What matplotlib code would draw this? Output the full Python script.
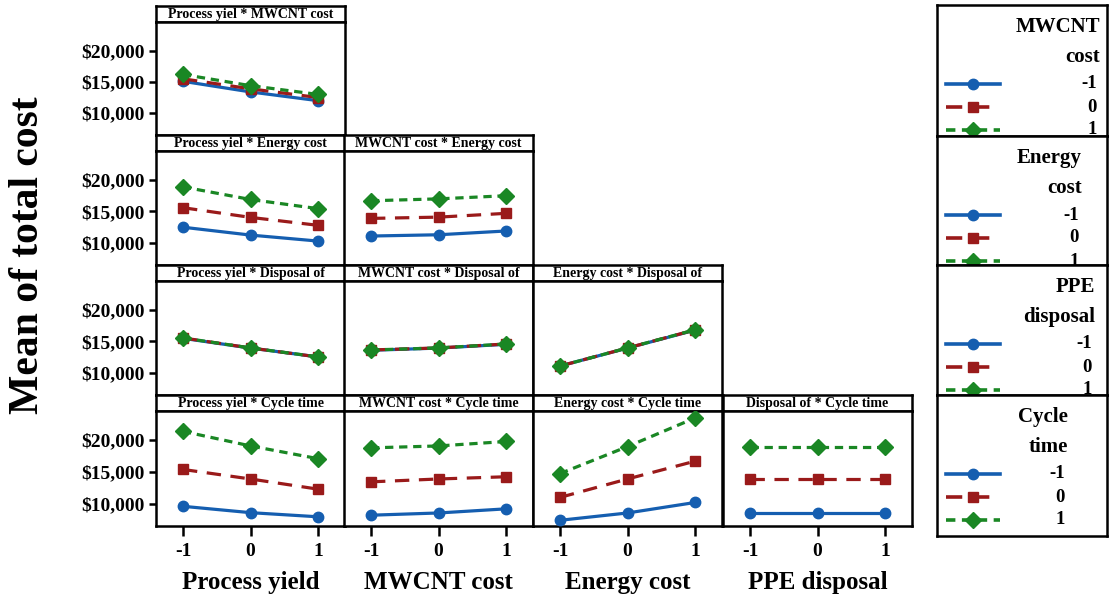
import numpy as np
import matplotlib
matplotlib.use('Agg')
import matplotlib.pyplot as plt
from matplotlib.ticker import FuncFormatter

plt.rcParams['font.family'] = ['Liberation Serif', 'DejaVu Serif']
plt.rcParams['font.weight'] = 'bold'
plt.rcParams['axes.unicode_minus'] = False

# factor levels and names
levels = [-1, 0, 1]
x_factors = ['Process yield', 'MWCNT cost', 'Energy cost', 'PPE disposal']
trace_factors = ['MWCNT\ncost', 'Energy\ncost', 'PPE\ndisposal', 'Cycle\ntime']
short_x = ['Process yiel', 'MWCNT cost', 'Energy cost', 'Disposal of']
short_trace = ['MWCNT cost', 'Energy cost', 'Disposal of', 'Cycle time']

# mean total cost, rows = trace level -1, 0, 1
yield_x_mwcnt = [[15100, 13400, 12000], [15500, 13900, 12500], [16200, 14400, 13000]]
yield_x_energy = [[12500, 11250, 10300], [15600, 14060, 12800], [18900, 16900, 15450]]
mwcnt_x_energy = [[11100, 11300, 11900], [13900, 14100, 14700], [16700, 17000, 17500]]
yield_x_ppe = [[15500, 13950, 12550], [15560, 13970, 12540], [15560, 13970, 12560]]
mwcnt_x_ppe = [[13600, 13950, 14550], [13650, 13970, 14600], [13650, 13970, 14600]]
energy_x_ppe = [[11100, 13950, 16800], [11100, 13970, 16830], [11100, 13970, 16850]]
yield_x_cycle = [[9600, 8600, 7950], [15400, 13900, 12300], [21400, 19100, 17100]]
mwcnt_x_cycle = [[8200, 8550, 9200], [13450, 13900, 14250], [18800, 19100, 19800]]
energy_x_cycle = [[7400, 8550, 10200], [11000, 13900, 16700], [14750, 19000, 23500]]
ppe_x_cycle = [[8550, 8550, 8550], [13900, 13900, 13900], [19000, 19000, 19000]]

panels = {
    (0, 0): yield_x_mwcnt,
    (1, 0): yield_x_energy, (1, 1): mwcnt_x_energy,
    (2, 0): yield_x_ppe, (2, 1): mwcnt_x_ppe, (2, 2): energy_x_ppe,
    (3, 0): yield_x_cycle, (3, 1): mwcnt_x_cycle, (3, 2): energy_x_cycle, (3, 3): ppe_x_cycle,
}

colors = ['#155EB0', '#9A1A1A', '#1A8724']
styles = ['-', (0, (4.5, 3)), (0, (2.6, 1.8))]
markers = ['o', 's', 'D']
msizes = [7.5, 7, 8.5]

W, H = 1110, 603
fig = plt.figure(figsize=(W / 100, H / 100), dpi=100)

col_left = [156, 344, 533, 723]
col_w = 189
row_top = [6, 135, 265, 395]
row_bot = [135, 265, 395, 526]
band = 16

def frac(x0, y0, x1, y1):
    return [x0 / W, 1 - y1 / H, (x1 - x0) / W, (y1 - y0) / H]

money = FuncFormatter(lambda v, p: '\\$' + format(int(v), ','))

for (r, c), vals in panels.items():
    x0 = col_left[c]
    hax = fig.add_axes(frac(x0, row_top[r], x0 + col_w, row_top[r] + band))
    hax.set_xticks([]); hax.set_yticks([])
    for s in hax.spines.values():
        s.set_linewidth(1.8)
    hax.text(0.5, 0.45, short_x[c] + ' * ' + short_trace[r], ha='center', va='center',
             fontsize=10, fontweight='bold', transform=hax.transAxes)

    ax = fig.add_axes(frac(x0, row_top[r] + band, x0 + col_w, row_bot[r]))
    for i in range(3):
        ax.plot(levels, vals[i], color=colors[i], linestyle=styles[i], marker=markers[i],
                markersize=msizes[i], linewidth=2.3, zorder=3 + i)
    ax.set_xlim(-1.4, 1.4)
    ax.set_ylim(6500, 24600)
    for s in ax.spines.values():
        s.set_linewidth(1.8)
    ax.set_yticks([10000, 15000, 20000])
    ax.yaxis.set_major_formatter(money)
    ax.set_xticks(levels)
    ax.tick_params(direction='out', width=1.8, length=5, labelsize=14, pad=3)
    if c != 0:
        ax.tick_params(axis='y', left=False, labelleft=False)
    if r != 3:
        ax.tick_params(axis='x', bottom=False, labelbottom=False)
    else:
        ax.tick_params(axis='x', length=7, pad=5, labelsize=14)
        ax.set_xlabel(x_factors[c], fontsize=18, fontweight='bold', labelpad=8)
    for lab in ax.get_xticklabels() + ax.get_yticklabels():
        lab.set_fontweight('bold')

fig.text(28 / W, 1 - 255 / H, 'Mean of total cost', rotation=90, ha='center', va='center',
         fontsize=30, fontweight='bold')

# legend panels on the right
leg_top = [5, 136, 265, 395]
leg_bot = [136, 265, 395, 536]
title_right = [1100, 1082, 1095, 1068]
for k in range(4):
    h = leg_bot[k] - leg_top[k]
    lax = fig.add_axes(frac(937, leg_top[k], 1107, leg_bot[k]))
    lax.set_xlim(937, 1107)
    lax.set_ylim(leg_top[k] + h, leg_top[k])
    lax.set_xticks([]); lax.set_yticks([])
    for s in lax.spines.values():
        s.set_linewidth(1.8)
    lax.text(title_right[k], leg_top[k] + 12, trace_factors[k], ha='right', va='top',
             multialignment='right', fontsize=15, fontweight='bold', linespacing=1.65)
    for i in range(3):
        yy = leg_top[k] + 79 + 23 * i
        lax.plot([946, 1000], [yy, yy], color=colors[i], linestyle=styles[i],
                 linewidth=2.6, clip_on=False)
        lax.plot([973], [yy], color=colors[i], marker=markers[i], markersize=msizes[i])
        lax.text(title_right[k] - 3, yy, str(levels[i]), ha='right', va='center',
                 fontsize=13.5, fontweight='bold')

fig.savefig('out.png', dpi=100)
